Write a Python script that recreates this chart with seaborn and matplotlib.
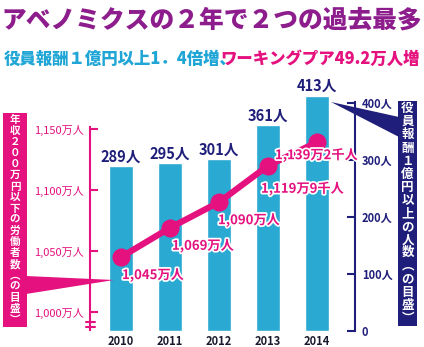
import matplotlib
matplotlib.use('Agg')
import matplotlib.pyplot as plt
import seaborn as sns
import pandas as pd
from matplotlib.patches import Rectangle, Polygon
import matplotlib.patheffects as pe

# ---- data ----
years = ['2010', '2011', '2012', '2013', '2014']
executives = [289, 295, 301, 361, 413]
workers = [1045, 1069, 1090, 1119.9, 1139.2]
worker_labels = ['1,045万人', '1,069万人', '1,090万人', '1,119万9千人', '1,139万2千人']
exec_labels = [f'{v}人' for v in executives]
left_ticks = [1000, 1050, 1100, 1150]
left_ticklabels = ['1,000万人', '1,050万人', '1,100万人', '1,150万人']
right_ticks = [0, 100, 200, 300, 400]
right_ticklabels = ['0', '100人', '200人', '300人', '400人']
title1 = 'アベノミクスの２年で２つの過去最多'
title2a = '役員報酬１億円以上1．4倍増、'
title2b = 'ワーキングプア49.2万人増'
left_box_text = '年収２００万円以下の労働者数︵の目盛︶'
right_box_text = '役員報酬１億円以上の人数︵の目盛︶'

# ---- style ----
PINK = '#e4117f'
CYAN = '#2aa9d2'
NAVY = '#1f1e7a'
PURPLE = '#8d1d8c'
CYAN_T = '#1fa6d6'

sns.set_style('white')
plt.rcParams['font.family'] = ['Noto Sans CJK JP', 'DejaVu Sans']

W, H = 424, 347
fig = plt.figure(figsize=(W / 100, H / 100), dpi=100)
fig.patch.set_facecolor('white')


def fx(px):
    return px / W


def fy(py):
    return 1 - py / H


ax = fig.add_axes([fx(90), fy(331), fx(355) - fx(90), fy(90) - fy(331)])
df = pd.DataFrame({'year': years, 'n': executives})
sns.barplot(data=df, x='year', y='n', ax=ax, color=CYAN, width=0.5, saturation=1)
ax.set_xlabel('')
ax.set_ylabel('')

ax2 = ax.twinx()
sns.lineplot(x=list(range(len(workers))), y=workers, ax=ax2, color=PINK,
             linewidth=4.5, marker='o', markersize=13, markeredgewidth=0,
             legend=False)
ax2.set_xlabel('')
ax2.set_ylabel('')

ax.set_xlim(-0.633, 4.776)
ax.set_ylim(0, 241 / 0.57)
ax2.set_ylim(1000 - 19 / 1.22, 1000 + 222 / 1.22)

# right axis (bars)
ax.yaxis.tick_right()
ax.set_yticks(right_ticks, right_ticklabels)
ax.tick_params(axis='y', direction='in', length=6, width=1.5, color=NAVY,
               labelcolor=NAVY, labelsize=8, pad=5)
for lbl in ax.get_yticklabels():
    lbl.set_fontweight('bold')
for s in ['top', 'left', 'bottom']:
    ax.spines[s].set_visible(False)
ax.spines['right'].set_color(NAVY)
ax.spines['right'].set_linewidth(1.5)
ax.spines['right'].set_bounds(0, 402)

ax.tick_params(axis='x', length=0, pad=3, labelsize=8, labelcolor='#1a1a2e')
for lbl in ax.get_xticklabels():
    lbl.set_fontweight('bold')

# left axis (line)
ax2.yaxis.tick_left()
ax2.set_yticks(left_ticks, left_ticklabels)
ax2.tick_params(axis='y', direction='in', length=6, width=1.5, color=PINK,
                labelcolor=PINK, labelsize=8, pad=4)
for s in ['top', 'right', 'bottom']:
    ax2.spines[s].set_visible(False)
ax2.spines['left'].set_color(PINK)
ax2.spines['left'].set_linewidth(1.5)
ax2.spines['left'].set_bounds(985, 1152)
# axis break marks
for yv in [991.8, 987.6]:
    ax2.plot([-0.015, 0.02], [yv, yv], color=PINK, lw=1.5, clip_on=False,
             transform=ax2.get_yaxis_transform())

# bar labels
for i, v in enumerate(executives):
    ax.annotate(exec_labels[i], (i, v), xytext=(0, 1), textcoords='offset points',
                ha='center', va='bottom', fontsize=10.5, fontweight='bold',
                color=NAVY)

# line labels
offsets = [(1, -18), (2, -18), (-1, -18), (-7, -23), (-42, -13)]
for i, v in enumerate(workers):
    ax2.annotate(worker_labels[i], (i, v), xytext=offsets[i],
                 textcoords='offset pixels', ha='left', va='center',
                 fontsize=9.5, fontweight='bold', color=PINK,
                 path_effects=[pe.withStroke(linewidth=2.5, foreground='white')])

# titles
fig.text(0.5, fy(19), title1, ha='center', va='center', fontsize=17.8,
         fontweight='black', color=PURPLE)
fig.text(fx(4), fy(59), title2a, ha='left', va='center', fontsize=11.8,
         fontweight='black', color=CYAN_T)
fig.text(fx(420), fy(59), title2b, ha='right', va='center', fontsize=11.8,
         fontweight='black', color=PINK)

# side boxes with pointers
fig.add_artist(Polygon([(fx(26), fy(276)), (fx(26), fy(294)), (fx(114), fy(280))],
                       closed=True, transform=fig.transFigure, color=PINK, lw=0))
fig.add_artist(Rectangle((fx(3), fy(327)), fx(27) - fx(3), fy(113) - fy(327),
                         transform=fig.transFigure, color=PINK, lw=0))
fig.add_artist(Polygon([(fx(399), fy(117)), (fx(399), fy(137)), (fx(331), fy(102))],
                       closed=True, transform=fig.transFigure, color=NAVY, lw=0))
fig.add_artist(Rectangle((fx(398), fy(326)), fx(417) - fx(398), fy(101) - fy(326),
                         transform=fig.transFigure, color=NAVY, lw=0))


def stack(text, xc, y0, y1, size):
    n = len(text)
    step = (y1 - y0) / n
    for k, ch in enumerate(text):
        fig.text(fx(xc), fy(y0 + step * (k + 0.5)), ch, ha='center', va='center',
                 fontsize=size, fontweight='bold', color='white')


stack(left_box_text, 15, 114, 326, 7.6)
stack(right_box_text, 407.5, 102, 325, 9)

fig.savefig('out.png', dpi=100)
